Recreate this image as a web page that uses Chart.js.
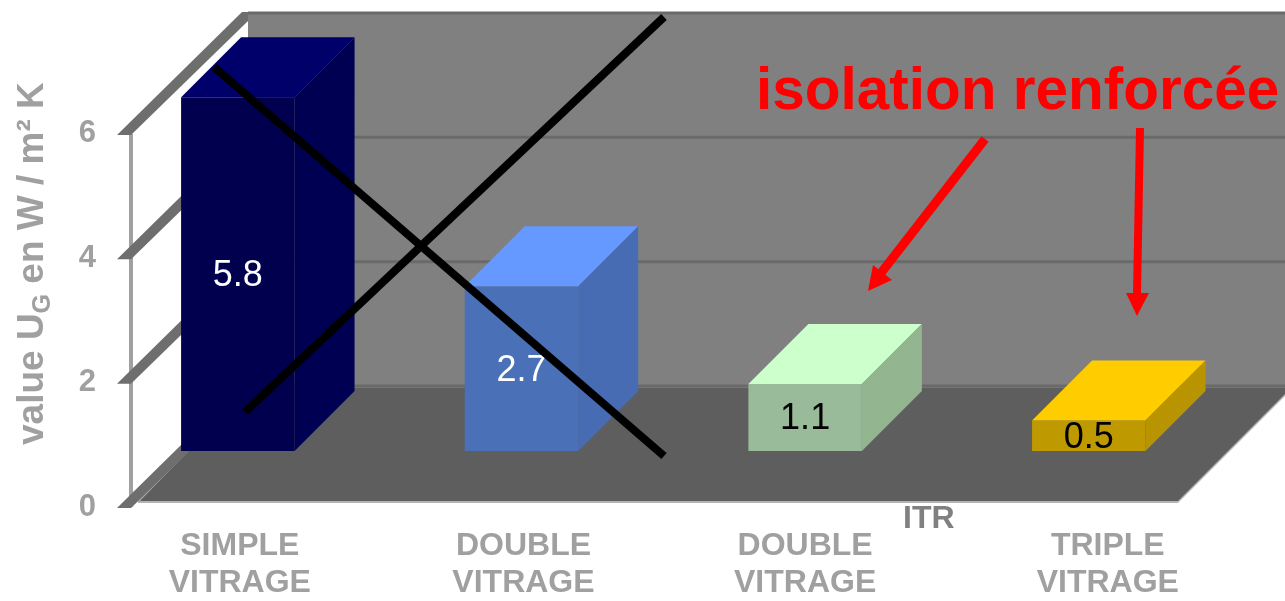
<!DOCTYPE html>
<html>
<head>
<meta charset="utf-8">
<title>Valeur UG des vitrages</title>
<script src="https://cdn.jsdelivr.net/npm/chart.js@4/dist/chart.umd.min.js"></script>
<style>
	html, body { margin: 0; padding: 0; background: #fff; overflow: hidden; }
	canvas { display: block; }
</style>
</head>
<body>
<canvas id="graphic" width="1285" height="601"></canvas>
<script>
const categories = [['SIMPLE', 'VITRAGE'], ['DOUBLE', 'VITRAGE'], ['DOUBLE', 'VITRAGE'], ['TRIPLE', 'VITRAGE']];
const uValues = [5.8, 2.7, 1.1, 0.5];
const gridValues = [0, 2, 4, 6];

const frontColors = ['#00004f', '#4a70b8', '#99bb99', '#bf9900'];
const sideColors = ['#000053', '#486cb4', '#93b590', '#b89500'];
const topColors = ['#00006b', '#6699ff', '#ccffcc', '#ffcc00'];
const labelColors = ['#ffffff', '#ffffff', '#000000', '#000000'];
const labelShift = [2, 2, 0, 19];

const FONT = '"Liberation Sans", Arial, sans-serif';
const GREY = '#a0a0a0';
const WALL_DX = 127, WALL_DY = 122; // depth of the side wall
const BAR_D = 60; // depth of a bar

function poly(ctx, pts, fill) {
	ctx.beginPath();
	pts.forEach((p, i) => i ? ctx.lineTo(p[0], p[1]) : ctx.moveTo(p[0], p[1]));
	ctx.closePath();
	ctx.fillStyle = fill;
	ctx.fill();
}

function segment(ctx, x1, y1, x2, y2, width, color) {
	ctx.beginPath();
	ctx.moveTo(x1, y1);
	ctx.lineTo(x2, y2);
	ctx.lineWidth = width;
	ctx.strokeStyle = color;
	ctx.stroke();
}

// wall, floor and the slanted tick bands behind the bars
const room = {
	id: 'room',
	beforeDatasetsDraw(chart) {
		const ctx = chart.ctx, y = chart.scales.y, w = chart.width;
		const left = 248, y0 = y.getPixelForValue(0);
		ctx.save();
		poly(ctx, [[left, y.getPixelForValue(6) - WALL_DY], [w, y.getPixelForValue(6) - WALL_DY], [w, y0 - WALL_DY + 3], [left, y0 - WALL_DY + 3]], '#808080');
		gridValues.forEach(v => {
			const py = y.getPixelForValue(v) - WALL_DY;
			segment(ctx, left, py + 1, w, py + 1, 3, '#6a6a6a');
		});
		poly(ctx, [[138, 502], [1178, 502], [1292, 388], [251, 388]], '#5e5e5e');
		segment(ctx, 138, 502, 1178, 502, 2, '#b4b4b4');
		segment(ctx, 1178, 502, 1292, 388, 1.5, '#b4b4b4');
		segment(ctx, 138, 502, 186, 452, 1.5, '#a8a8a8');
		segment(ctx, 131, y.getPixelForValue(6), 131, y0, 4, GREY);
		gridValues.forEach(v => {
			const py = y.getPixelForValue(v);
			poly(ctx, [[117, py + 1], [131, py + 1], [248, py - WALL_DY + 9], [248, py - WALL_DY], [242, py - WALL_DY]], '#6e6e6e');
		});
		ctx.restore();
	},
	afterDatasetsDraw(chart) {
		const ctx = chart.ctx;
		ctx.save();
		chart.getDatasetMeta(0).data.forEach((bar, i) => {
			const l = bar.x - bar.width / 2, r = bar.x + bar.width / 2;
			poly(ctx, [[l, bar.y], [r, bar.y], [r + BAR_D, bar.y - BAR_D], [l + BAR_D, bar.y - BAR_D]], topColors[i]);
			poly(ctx, [[r, bar.y], [r + BAR_D, bar.y - BAR_D], [r + BAR_D, bar.base - BAR_D], [r, bar.base]], sideColors[i]);
			ctx.font = '36px ' + FONT;
			ctx.fillStyle = labelColors[i];
			ctx.textAlign = 'center';
			ctx.textBaseline = 'middle';
			ctx.fillText(uValues[i].toFixed(1), bar.x, (bar.y + bar.base) / 2 + 2);
		});
		ctx.restore();
	}
};

// axis captions, crossing strokes and the red callouts on top of everything
const notes = {
	id: 'notes',
	afterDraw(chart) {
		const ctx = chart.ctx, x = chart.scales.x;
		ctx.save();

		ctx.fillStyle = GREY;
		ctx.font = 'bold 32px ' + FONT;
		ctx.textAlign = 'center';
		ctx.textBaseline = 'alphabetic';
		categories.forEach((lines, i) => {
			const px = x.getPixelForValue(i) + labelShift[i];
			ctx.fillText(lines[0], px, 555);
			ctx.fillText(lines[1], px, 592);
		});

		ctx.textAlign = 'left';
		ctx.fillStyle = '#808080';
		ctx.fillText('ITR', 903, 528);

		ctx.save();
		ctx.translate(43, 445);
		ctx.rotate(-Math.PI / 2);
		ctx.fillStyle = GREY;
		let pos = 0;
		[['value U', 0, 37], ['G', 7, 25], [' en W / m² K', 0, 37]].forEach(part => {
			ctx.font = 'bold ' + part[2] + 'px ' + FONT;
			ctx.fillText(part[0], pos, part[1]);
			pos += ctx.measureText(part[0]).width;
		});
		ctx.restore();

		ctx.lineCap = 'butt';
		segment(ctx, 214, 67, 664, 456, 8, '#000');
		segment(ctx, 245, 412, 664, 17, 8, '#000');

		ctx.fillStyle = '#ff0000';
		ctx.font = 'bold 58.5px ' + FONT;
		ctx.fillText('isolation renforcée', 756, 109);

		segment(ctx, 985, 139, 881, 273, 9, '#ff0000');
		poly(ctx, [[868, 291], [873, 265], [892, 280]], '#ff0000');
		segment(ctx, 1140, 128, 1137, 295, 8, '#ff0000');
		poly(ctx, [[1137, 316], [1126, 293], [1149, 293]], '#ff0000');

		ctx.restore();
	}
};

new Chart(document.getElementById('graphic'), {
	type: 'bar',
	data: {
		labels: categories,
		datasets: [{
			data: uValues,
			yAxisID: 'yBar',
			backgroundColor: frontColors,
			barPercentage: 0.4,
			categoryPercentage: 1
		}]
	},
	options: {
		responsive: false,
		animation: false,
		layout: { padding: { top: 12, right: 54.4, bottom: 0, left: 0 } },
		plugins: { legend: { display: false }, tooltip: { enabled: false } },
		scales: {
			x: {
				grid: { display: false },
				border: { display: false },
				ticks: { display: false },
				afterFit(scale) { scale.height = 94; }
			},
			y: {
				min: 0,
				max: 7.96,
				grid: { display: false, drawTicks: false },
				border: { display: false },
				ticks: {
					stepSize: 2,
					includeBounds: false,
					padding: 0,
					color: GREY,
					font: { family: 'Liberation Sans', size: 31, weight: 'bold' }
				},
				afterFit(scale) {
					scale.width = 96;
					scale.paddingTop = 0;
					scale.paddingBottom = 0;
				}
			},
			// the columns sit back from the axis, on the floor, with their own baseline
			yBar: {
				display: false,
				min: -56 / 61,
				max: 439 / 61
			}
		}
	},
	plugins: [room, notes]
});
</script>
</body>
</html>
